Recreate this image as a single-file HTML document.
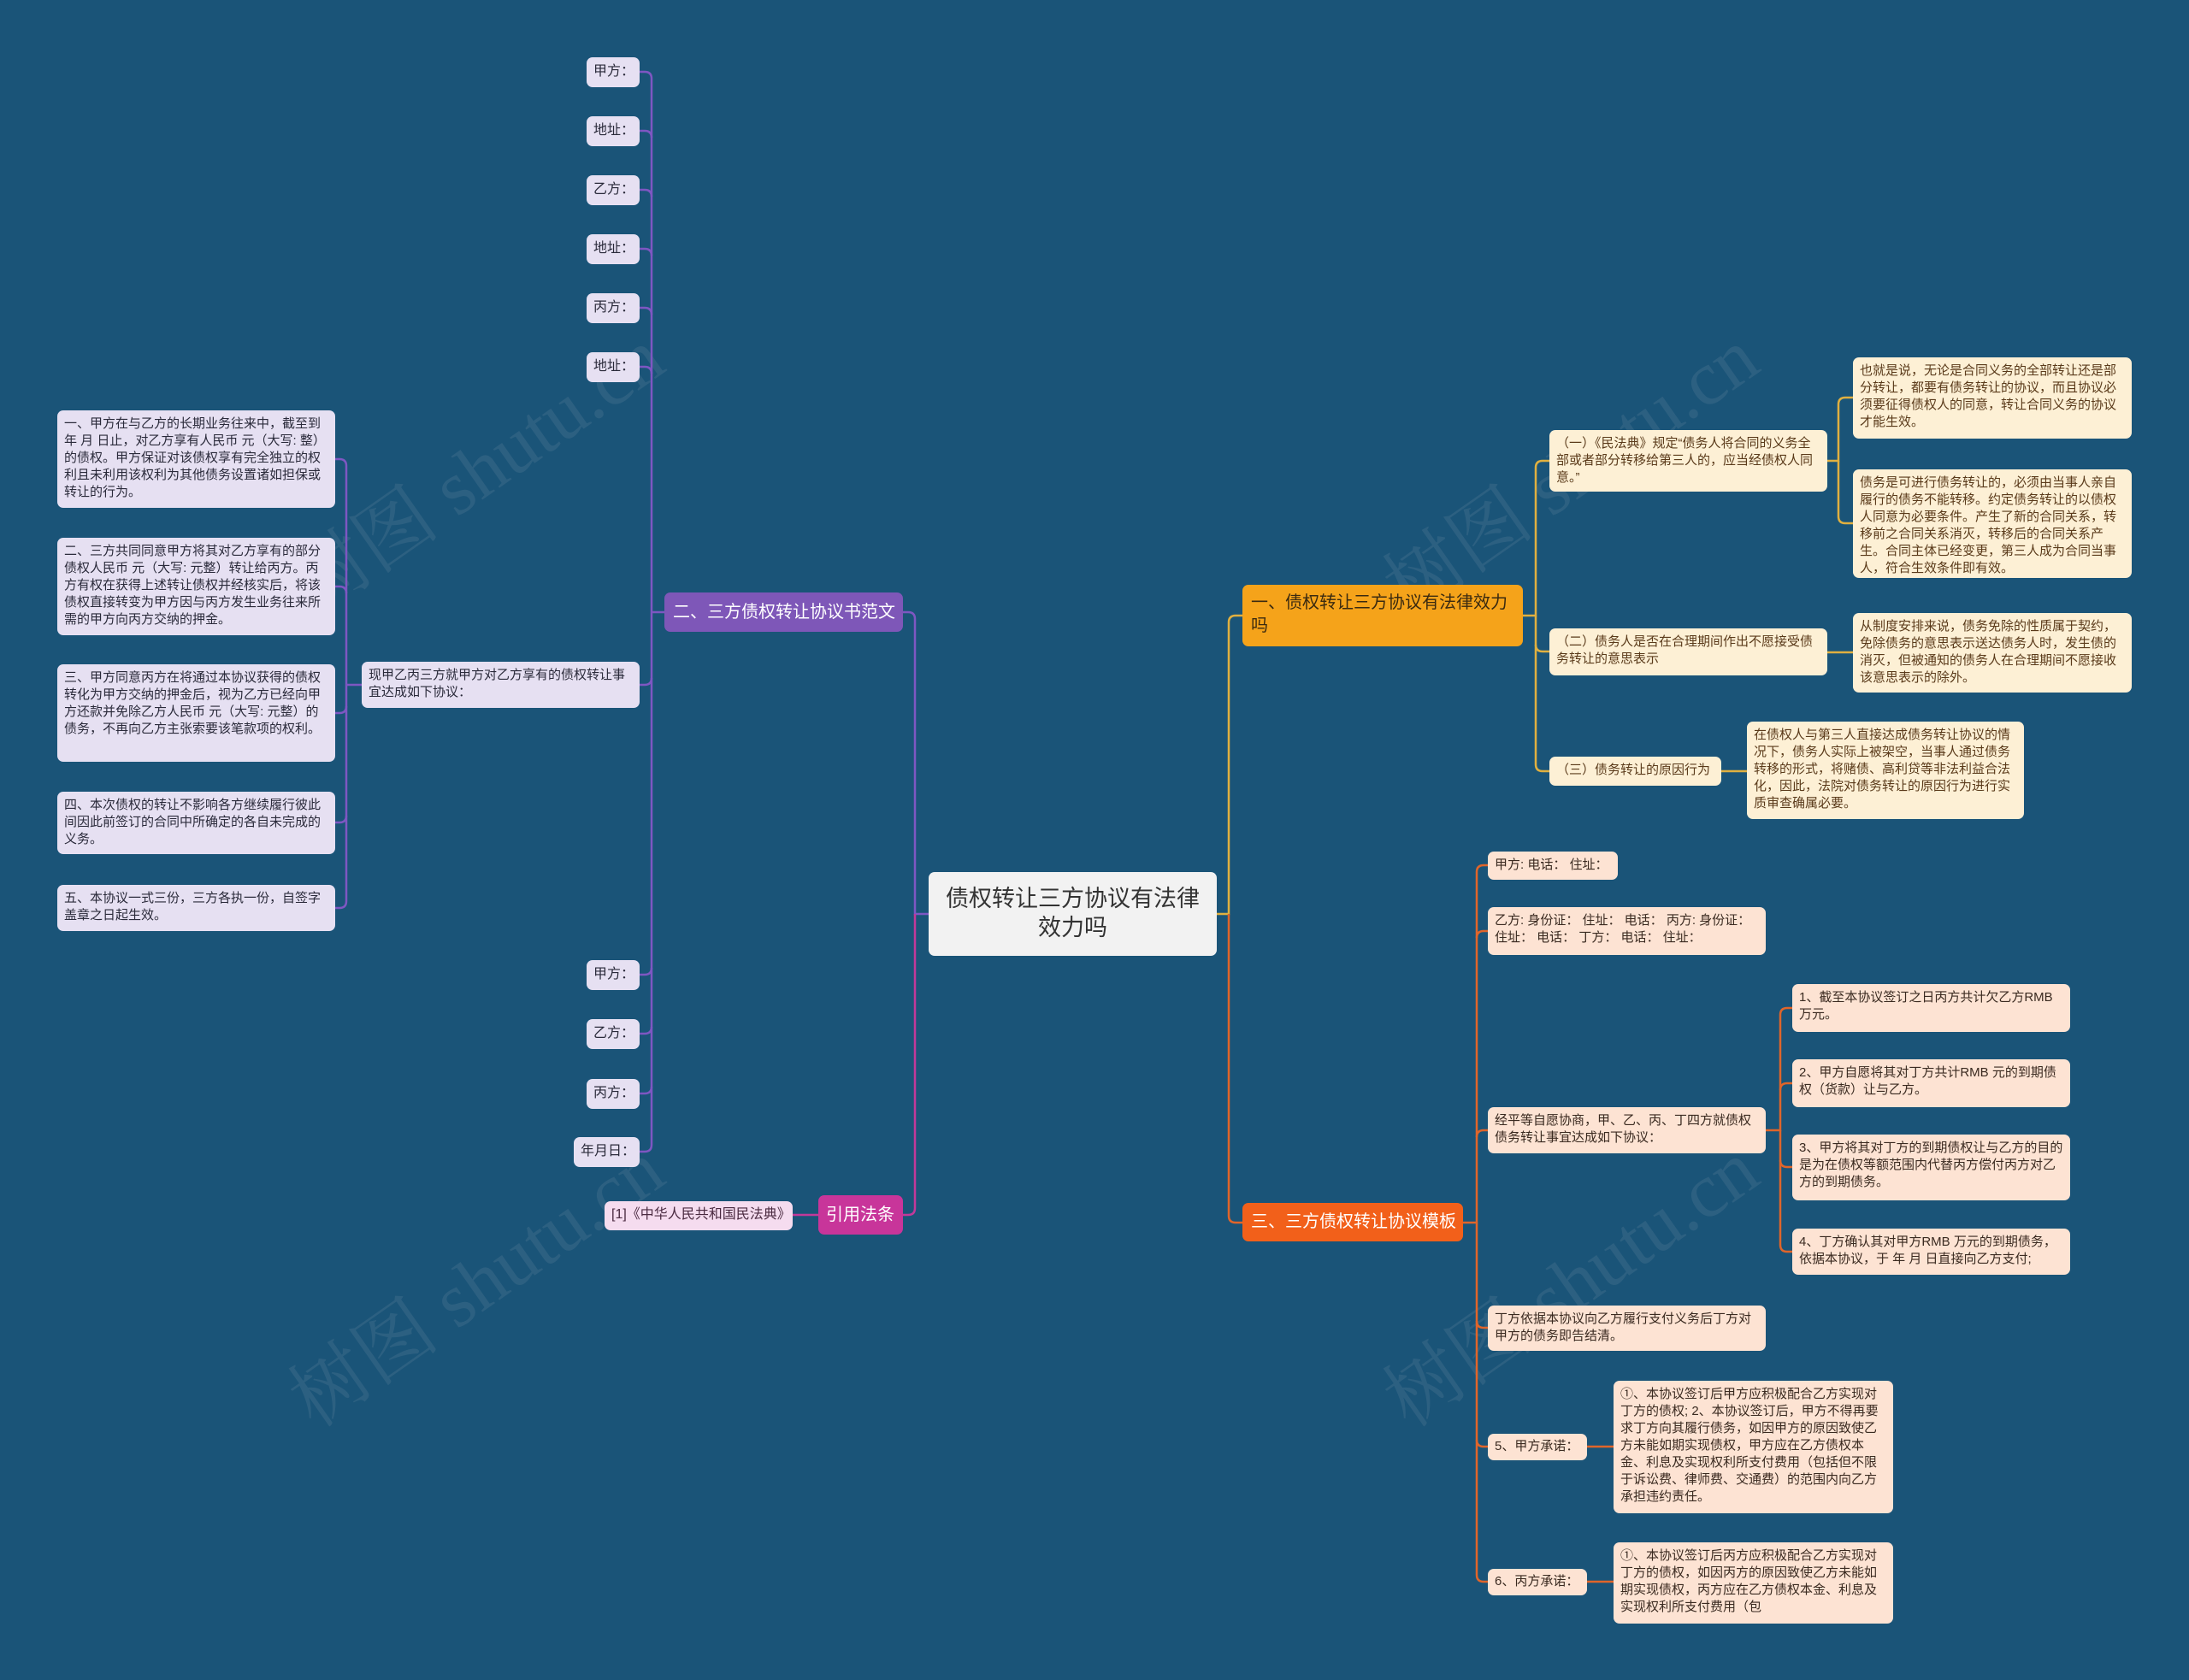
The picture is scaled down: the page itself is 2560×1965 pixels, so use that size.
<!DOCTYPE html>
<html><head><meta charset="utf-8">
<style>
*{margin:0;padding:0;box-sizing:border-box}
body{width:2560px;height:1965px;background:#1a5478;position:relative;overflow:hidden;font-family:"Liberation Sans","Noto Sans CJK SC",sans-serif}
.n{position:absolute;border-radius:7px;font-size:15px;line-height:20px;padding:6px 8px;color:#333;overflow:hidden}
.p{background:#e6e0f2;color:#2a2a3a}
.y{background:#fdf0d5;color:#5a3a1a}
.o{background:#fde3d3;color:#3a2a20}
.lab{font-size:16px;padding:7px 0 0 8px}
.nw{white-space:nowrap}
.wm{position:absolute;font-size:90px;color:rgba(140,160,180,0.16);transform:rotate(-35deg);white-space:nowrap;font-family:"Liberation Serif","Noto Serif CJK SC",serif}
svg{position:absolute;left:0;top:0}
</style></head><body>
<div class="wm" style="left:300px;top:480px">树图 shutu.cn</div>
<div class="wm" style="left:1580px;top:480px">树图 shutu.cn</div>
<div class="wm" style="left:300px;top:1430px">树图 shutu.cn</div>
<div class="wm" style="left:1580px;top:1430px">树图 shutu.cn</div>
<svg width="2560" height="1965" fill="none" stroke-width="2.5">
<g stroke="#7e57c2">
<path d="M777 716H762"/>
<path d="M762 716V92Q762 84 754 84H748"/>
<path d="M762 161Q762 153 754 153H748"/>
<path d="M762 230Q762 222 754 222H748"/>
<path d="M762 299Q762 291 754 291H748"/>
<path d="M762 368Q762 360 754 360H748"/>
<path d="M762 437Q762 429 754 429H748"/>
<path d="M762 716V1339Q762 1347 754 1347H748"/>
<path d="M762 793Q762 801 754 801H748"/>
<path d="M762 1132Q762 1140 754 1140H748"/>
<path d="M762 1201Q762 1209 754 1209H748"/>
<path d="M762 1271Q762 1279 754 1279H748"/>
<path d="M423 801H405"/>
<path d="M405 801V545Q405 537 397 537H392"/>
<path d="M405 694Q405 686 397 686H392"/>
<path d="M405 801V1054Q405 1062 397 1062H392"/>
<path d="M405 826Q405 834 397 834H392"/>
<path d="M405 954Q405 962 397 962H392"/>
<path d="M1086 1069H1070V724Q1070 716 1062 716H1056"/>
</g>
<g stroke="#c2399a">
<path d="M1070 1069V1413Q1070 1421 1062 1421H1056"/>
<path d="M957 1421H927"/>
</g>
<g stroke="#e0b040">
<path d="M1422 1069H1437V728Q1437 720 1445 720H1453"/>
<path d="M1781 720H1796V547Q1796 539 1804 539H1812"/>
<path d="M1796 720V894Q1796 902 1804 902H1812"/>
<path d="M1796 754Q1796 762 1804 762H1812"/>
<path d="M2137 539H2150V473Q2150 465 2158 465H2167"/>
<path d="M2150 539V604Q2150 612 2158 612H2167"/>
<path d="M2137 763H2167"/>
<path d="M2013 902H2043"/>
</g>
<g stroke="#e0652a">
<path d="M1437 1069V1422Q1437 1430 1445 1430H1453"/>
<path d="M1711 1430H1727V1020Q1727 1012 1735 1012H1740"/>
<path d="M1727 1097Q1727 1089 1735 1089H1740"/>
<path d="M1727 1330Q1727 1322 1735 1322H1740"/>
<path d="M1727 1430V1842Q1727 1850 1735 1850H1740"/>
<path d="M1727 1545Q1727 1553 1735 1553H1740"/>
<path d="M1727 1684Q1727 1692 1735 1692H1740"/>
<path d="M2065 1322H2082V1187Q2082 1179 2090 1179H2096"/>
<path d="M2082 1275Q2082 1267 2090 1267H2096"/>
<path d="M2082 1322V1456Q2082 1464 2090 1464H2096"/>
<path d="M2082 1357Q2082 1365 2090 1365H2096"/>
<path d="M1856 1692H1887"/>
<path d="M1856 1850H1887"/>
</g>
</svg>

<div class="n" style="left:1086px;top:1020px;width:337px;height:98px;background:#f2f2f2;color:#333;font-size:27px;line-height:34px;text-align:center;padding:14px 20px">债权转让三方协议有法律效力吗</div>

<div class="n nw" style="left:777px;top:693px;width:279px;height:46px;background:#7e57b8;color:#fff;font-size:20px;line-height:30px;padding:8px 10px">二、三方债权转让协议书范文</div>
<div class="n nw" style="left:957px;top:1398px;width:99px;height:46px;background:#c8359a;color:#fff;font-size:20px;line-height:30px;padding:8px 9px">引用法条</div>
<div class="n nw" style="left:707px;top:1405px;width:220px;height:34px;background:#f5dcef;color:#4a2a40;font-size:16px;padding:6px 8px">[1]《中华人民共和国民法典》</div>

<div class="n p lab" style="left:686px;top:67px;width:62px;height:35px">甲方：</div>
<div class="n p lab" style="left:686px;top:136px;width:62px;height:35px">地址：</div>
<div class="n p lab" style="left:686px;top:205px;width:62px;height:35px">乙方：</div>
<div class="n p lab" style="left:686px;top:274px;width:62px;height:35px">地址：</div>
<div class="n p lab" style="left:686px;top:343px;width:62px;height:35px">丙方：</div>
<div class="n p lab" style="left:686px;top:412px;width:62px;height:35px">地址：</div>
<div class="n p lab" style="left:686px;top:1123px;width:62px;height:35px">甲方：</div>
<div class="n p lab" style="left:686px;top:1192px;width:62px;height:35px">乙方：</div>
<div class="n p lab" style="left:686px;top:1262px;width:62px;height:35px">丙方：</div>
<div class="n p lab" style="left:671px;top:1330px;width:77px;height:35px">年月日：</div>

<div class="n p" style="left:423px;top:774px;width:325px;height:54px">现甲乙丙三方就甲方对乙方享有的债权转让事宜达成如下协议：</div>

<div class="n p" style="left:67px;top:480px;width:325px;height:114px">一、甲方在与乙方的长期业务往来中，截至到 年 月 日止，对乙方享有人民币 元（大写: 整）的债权。甲方保证对该债权享有完全独立的权利且未利用该权利为其他债务设置诸如担保或转让的行为。</div>
<div class="n p" style="left:67px;top:629px;width:325px;height:114px">二、三方共同同意甲方将其对乙方享有的部分债权人民币 元（大写: 元整）转让给丙方。丙方有权在获得上述转让债权并经核实后，将该债权直接转变为甲方因与丙方发生业务往来所需的甲方向丙方交纳的押金。</div>
<div class="n p" style="left:67px;top:777px;width:325px;height:114px">三、甲方同意丙方在将通过本协议获得的债权转化为甲方交纳的押金后，视为乙方已经向甲方还款并免除乙方人民币 元（大写: 元整）的债务，不再向乙方主张索要该笔款项的权利。</div>
<div class="n p" style="left:67px;top:926px;width:325px;height:73px">四、本次债权的转让不影响各方继续履行彼此间因此前签订的合同中所确定的各自未完成的义务。</div>
<div class="n p" style="left:67px;top:1035px;width:325px;height:54px">五、本协议一式三份，三方各执一份，自签字盖章之日起生效。</div>

<div class="n" style="left:1453px;top:684px;width:328px;height:72px;background:#f5a31a;color:#3a2a10;font-size:20px;line-height:27px;padding:8px 10px">一、债权转让三方协议有法律效力吗</div>
<div class="n nw" style="left:1453px;top:1407px;width:258px;height:45px;background:#f2601a;color:#fff;font-size:20px;line-height:29px;padding:8px 10px">三、三方债权转让协议模板</div>

<div class="n y" style="left:1812px;top:503px;width:325px;height:72px;padding:6px 8px">（一）《民法典》规定“债务人将合同的义务全部或者部分转移给第三人的，应当经债权人同意。”</div>
<div class="n y" style="left:1812px;top:735px;width:325px;height:55px">（二）债务人是否在合理期间作出不愿接受债务转让的意思表示</div>
<div class="n y" style="left:1812px;top:885px;width:201px;height:34px">（三）债务转让的原因行为</div>
<div class="n y" style="left:2167px;top:418px;width:326px;height:95px">也就是说，无论是合同义务的全部转让还是部分转让，都要有债务转让的协议，而且协议必须要征得债权人的同意，转让合同义务的协议才能生效。</div>
<div class="n y" style="left:2167px;top:549px;width:326px;height:127px">债务是可进行债务转让的，必须由当事人亲自履行的债务不能转移。约定债务转让的以债权人同意为必要条件。产生了新的合同关系，转移前之合同关系消灭，转移后的合同关系产生。合同主体已经变更，第三人成为合同当事人，符合生效条件即有效。</div>
<div class="n y" style="left:2167px;top:717px;width:326px;height:93px">从制度安排来说，债务免除的性质属于契约，免除债务的意思表示送达债务人时，发生债的消灭，但被通知的债务人在合理期间不愿接收该意思表示的除外。</div>
<div class="n y" style="left:2043px;top:844px;width:324px;height:114px">在债权人与第三人直接达成债务转让协议的情况下，债务人实际上被架空，当事人通过债务转移的形式，将赌债、高利贷等非法利益合法化，因此，法院对债务转让的原因行为进行实质审查确属必要。</div>

<div class="n o" style="left:1740px;top:996px;width:152px;height:33px">甲方: 电话： 住址：</div>
<div class="n o" style="left:1740px;top:1061px;width:325px;height:56px">乙方: 身份证： 住址： 电话： 丙方: 身份证： 住址： 电话： 丁方： 电话： 住址：</div>
<div class="n o" style="left:1740px;top:1295px;width:325px;height:54px">经平等自愿协商，甲、乙、丙、丁四方就债权债务转让事宜达成如下协议：</div>
<div class="n o" style="left:1740px;top:1527px;width:325px;height:53px">丁方依据本协议向乙方履行支付义务后丁方对甲方的债务即告结清。</div>
<div class="n o" style="left:1740px;top:1677px;width:116px;height:31px;padding-top:5px">5、甲方承诺：</div>
<div class="n o" style="left:1740px;top:1835px;width:116px;height:31px;padding-top:5px">6、丙方承诺：</div>

<div class="n o" style="left:2096px;top:1151px;width:325px;height:56px">1、截至本协议签订之日丙方共计欠乙方RMB 万元。</div>
<div class="n o" style="left:2096px;top:1239px;width:325px;height:56px">2、甲方自愿将其对丁方共计RMB 元的到期债权（货款）让与乙方。</div>
<div class="n o" style="left:2096px;top:1327px;width:325px;height:77px">3、甲方将其对丁方的到期债权让与乙方的目的是为在债权等额范围内代替丙方偿付丙方对乙方的到期债务。</div>
<div class="n o" style="left:2096px;top:1437px;width:325px;height:54px">4、丁方确认其对甲方RMB 万元的到期债务，依据本协议，于 年 月 日直接向乙方支付;</div>
<div class="n o" style="left:1887px;top:1615px;width:327px;height:155px">①、本协议签订后甲方应积极配合乙方实现对丁方的债权; 2、本协议签订后，甲方不得再要求丁方向其履行债务，如因甲方的原因致使乙方未能如期实现债权，甲方应在乙方债权本金、利息及实现权利所支付费用（包括但不限于诉讼费、律师费、交通费）的范围内向乙方承担违约责任。</div>
<div class="n o" style="left:1887px;top:1804px;width:327px;height:95px">①、本协议签订后丙方应积极配合乙方实现对丁方的债权，如因丙方的原因致使乙方未能如期实现债权，丙方应在乙方债权本金、利息及实现权利所支付费用（包</div>
</body></html>
